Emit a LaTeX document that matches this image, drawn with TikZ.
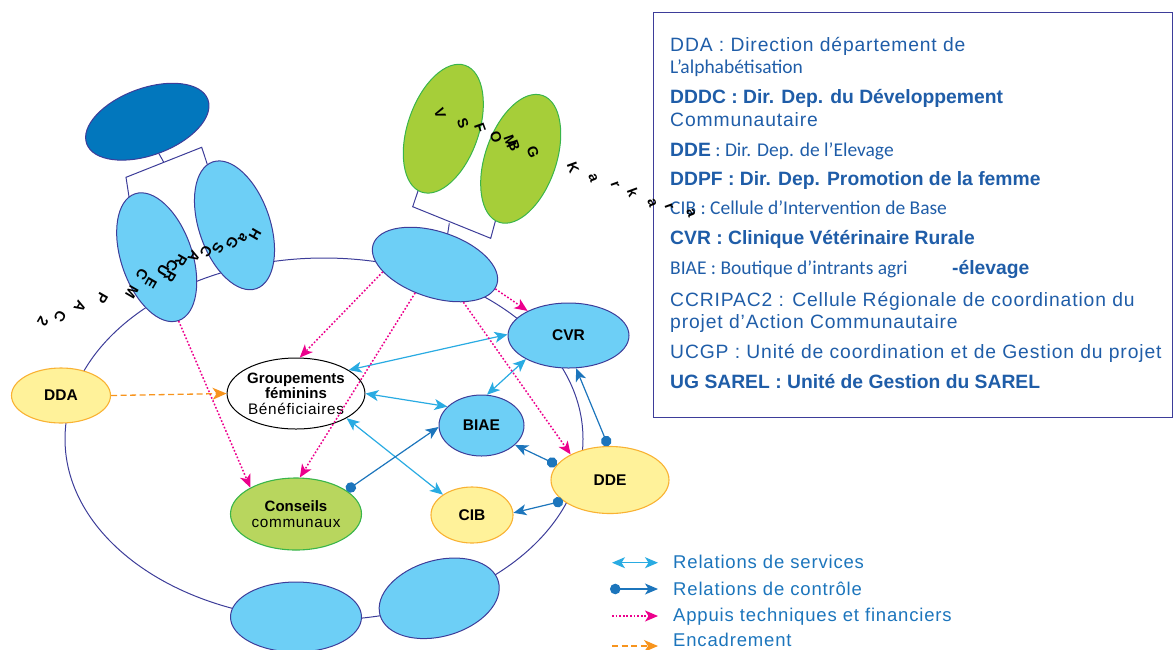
\documentclass[tikz,border=0pt]{standalone}
\usepackage{fontspec}
\setmainfont{Liberation Sans}
\setsansfont{Liberation Sans}
\newfontfamily\spaced[LetterSpace=4.5]{Liberation Sans}
\newfontfamily\myr{Carlito}
\usetikzlibrary{arrows.meta,shapes.geometric}

\definecolor{outl}{HTML}{3D3D99}
\definecolor{lblue}{HTML}{6DCFF6}
\definecolor{dblue}{HTML}{0277BD}
\definecolor{lgreen}{HTML}{A6CE39}
\definecolor{cgreen}{HTML}{B8D65E}
\definecolor{gedge}{HTML}{39B54A}
\definecolor{yfill}{HTML}{FFF29A}
\definecolor{yedge}{HTML}{F9B233}
\definecolor{svc}{HTML}{29ABE2}
\definecolor{ctl}{HTML}{1C75BC}
\definecolor{pinkc}{HTML}{EC008C}
\definecolor{orng}{HTML}{F7941D}
\definecolor{txtb}{HTML}{1F5DA8}
\definecolor{legt}{HTML}{1C75BC}

\newcommand\nodebf{\bfseries\fontsize{15.5}{16}\selectfont}
\newcommand\nodert{\spaced\fontsize{15.3}{15.5}\selectfont}
\newcommand\boxrg{\spaced\fontsize{19.3}{23}\selectfont}
\newcommand\boxbf{\bfseries\fontsize{19.3}{23}\selectfont}
\newcommand\boxmy{\myr\fontsize{19.5}{23}\selectfont}
\newcommand\legfont{\spaced\fontsize{18.5}{22}\selectfont}

\tikzset{
  outline/.style={draw=outl, line width=1pt},
  satb/.style={ellipse, outline, fill=lblue, inner sep=0pt},
  satg/.style={ellipse, draw=gedge, line width=1pt, fill=lgreen, inner sep=0pt},
  bnode/.style={ellipse, outline, fill=lblue, inner sep=0pt, font=\nodebf},
  ynode/.style={ellipse, draw=yedge, line width=1.1pt, fill=yfill, inner sep=0pt, font=\nodebf},
  twoline/.style={align=center, font=\fontsize{15}{15.5}\selectfont},
  link/.style={draw=outl, line width=1pt},
  svcarrow/.style={svc, line width=1.2pt, {Stealth[length=13pt,width=11pt,inset=3.5pt]}-{Stealth[length=13pt,width=11pt,inset=3.5pt]}},
  ctlarrow/.style={ctl, line width=1.2pt, {Circle[length=10.5pt]}-{Stealth[length=13pt,width=11pt,inset=3.5pt]}},
  aparrow/.style={pinkc, line width=1.5pt, dash pattern=on 1.7pt off 1.9pt, -{Stealth[length=13pt,width=11pt,inset=3.5pt]}},
  encarrow/.style={orng, line width=1.3pt, dash pattern=on 6pt off 3.5pt, -{Stealth[length=14pt,width=12pt,inset=4pt]}},
  boxtxt/.style={anchor=base west, inner sep=0pt, text=txtb},
  legtxt/.style={anchor=base west, inner sep=0pt, text=legt, font=\legfont},
  glyph/.style={inner sep=0pt, font=\bfseries\fontsize{14.5}{14.5}\selectfont, text=black},
}

\begin{document}
\begin{tikzpicture}[x=1pt,y=1pt]
\useasboundingbox (0,0) rectangle (1174,-649);
\clip (0,0) rectangle (1174,-649);

% outer ring of the network
\node[ellipse, outline, minimum width=518pt, minimum height=362pt, inner sep=0pt] (ring) at (324,-439) {};

% brackets joining the satellite groups
\coordinate (lb1) at (129.5,-200);
\coordinate (lb2) at (126,-177.3);
\coordinate (lb3) at (201.7,-147.3);
\coordinate (lb4) at (208.5,-168);
\coordinate (lbm) at (163.8,-162.3);
\coordinate (gb1) at (420,-185);
\coordinate (gb2) at (412.7,-206.7);
\coordinate (gb3) at (490.7,-238.3);
\coordinate (gb4) at (497,-215);
\coordinate (gbm) at (449.3,-223.3);
\coordinate (gbe) at (446.7,-240);
\draw[link] (lb1) -- (lb2) -- (lb3) -- (lb4);
\draw[link] (gb1) -- (gb2) -- (gb3) -- (gb4);
\draw[link] (gbm) -- (gbe);

% satellite ellipses
\node[satb, fill=dblue, minimum width=129pt, minimum height=67pt, rotate=20] (topd) at (147.3,-121.7) {};
\draw[link] (topd.south) -- (lbm);
\node[satb, minimum width=71pt, minimum height=134pt, rotate=19] (sl1) at (156.7,-257.2) {};
\node[satb, minimum width=71pt, minimum height=134pt, rotate=19] (sl2) at (234.5,-225.3) {};
\node[satg, minimum width=71pt, minimum height=134pt, rotate=-19] (sg1) at (443.3,-128.7) {};
\node[satg, minimum width=71pt, minimum height=134pt, rotate=-19] (sg2) at (520.7,-158.8) {};
\node[satb, minimum width=130pt, minimum height=66pt, rotate=-18] (stm) at (435,-264.5) {};
\node[satb, minimum width=131pt, minimum height=70pt] (sb1) at (296,-617) {};
\node[satb, minimum width=123pt, minimum height=76pt, rotate=16] (sb2) at (439.2,-598.3) {};

% actors
\node[bnode, minimum width=121pt, minimum height=65pt] (cvr) at (568.5,-335.5) {CVR};
\node[ynode, minimum width=118pt, minimum height=67pt] (dde) at (610,-480) {DDE};
\node[bnode, minimum width=85pt, minimum height=61pt] (biae) at (481.5,-425.5) {BIAE};
\node[ynode, minimum width=82pt, minimum height=56pt] (cib) at (472,-515) {CIB};
\node[ynode, minimum width=99pt, minimum height=55pt] (dda) at (61,-395.5) {DDA};
\node[ellipse, draw=black, line width=1pt, fill=white, inner sep=0pt, twoline,
      minimum width=131pt, minimum height=71pt] (grp) at (296,-393.5)
      {\textbf{Groupements}\\\textbf{féminins}\\{\nodert Bénéficiaires}};
\node[ellipse, draw=gedge, line width=1.1pt, fill=cgreen, inner sep=0pt, twoline,
      minimum width=131pt, minimum height=72pt] (cons) at (296,-514)
      {\textbf{Conseils}\\{\nodert communaux}};

% service relations
\draw[svcarrow] (grp.24) -- (cvr.179);
\draw[svcarrow] (grp.0) -- (biae.151);
\draw[svcarrow] (grp.-26) -- (cib.145);
\draw[svcarrow] (biae.80) -- (cvr.209);

% control relations
\draw[ctlarrow] (cons.25) -- (biae.182);
\draw[ctlarrow] (dde.164) -- (biae.-30);
\draw[ctlarrow] (dde.204) -- (cib.3);
\draw[ctlarrow] (dde.93) -- (cvr.-77);

% technical and financial support
\draw[aparrow] (sl1.south) -- (cons.150);
\draw[aparrow] (stm.206) -- (grp.84);
\draw[aparrow] (stm.253) -- (cons.84);
\draw[aparrow] (stm.325) -- (dde.147);
\draw[aparrow] (stm.356) -- (cvr.149);

% supervision
\draw[encarrow] (dda.0) -- (grp.180);

% glossary box
\node[draw=outl, line width=1.2pt, minimum width=519pt, minimum height=405pt, inner sep=0pt, anchor=north west] (gloss) at (653,-12) {};
\node[boxtxt] (t1) at (670,-51.7) {\boxrg DDA : Direction département de};
\node[boxtxt] (t2) at (670,-73.3) {\boxmy L’alphabétisation};
\node[boxtxt] (t3) at (670,-103.3) {\boxbf DDDC : Dir. Dep. du Développement};
\node[boxtxt] (t4) at (670,-126) {\boxrg Communautaire};
\node[boxtxt] (t5) at (670,-156.7) {{\boxbf DDE}{\boxmy\ : Dir. Dep. de l’Elevage}};
\node[boxtxt] (t6) at (670,-185.7) {\boxbf DDPF : Dir. Dep. Promotion de la femme};
\node[boxtxt] (t7) at (670,-214) {\boxmy CIB : Cellule d’Intervention de Base};
\node[boxtxt] (t8) at (670,-244) {\boxbf CVR : Clinique Vétérinaire Rurale};
\node[boxtxt] (t9) at (670,-274) {\boxmy BIAE : Boutique d’intrants agri};
\node[boxtxt] (t9b) at (952,-274) {\boxbf -élevage};
\node[boxtxt] (t10) at (670,-306) {\boxrg CCRIPAC2 : Cellule Régionale de coordination du};
\node[boxtxt] (t11) at (670,-328.3) {\boxrg projet d’Action Communautaire};
\node[boxtxt] (t12) at (670,-358.3) {\boxrg UCGP : Unité de coordination et de Gestion du projet};
\node[boxtxt] (t13) at (670,-388.3) {\boxbf UG SAREL : Unité de Gestion du SAREL};

% scattered labels along the satellites
\foreach \x/\y/\c [count=\i] in {255/235/H, 243/238/a, 232/243/G, 218/248/S, 206/252/C,
    194/257/A, 181/261/R, 172/266/C, 163/270/U, 170/277/R, 142/275/C, 151/283/E,
    132/292/M, 102/298/P, 80/307/A, 60/317/C, 43/322/2}
  \node[glyph, rotate=-120] (la\i) at (\x,-\y) {\c};
\foreach \x/\y/\c [count=\i] in {440/113/V, 463/123/S, 480/128/F, 496/137/O, 510/141/M,
    514/146/B, 533/152/G, 573/168/K, 593/178/a, 615/185/r, 633/192/k, 652/203/a,
    669/207/r, 691/213/a}
  \node[glyph, rotate=-70] (lg\i) at (\x,-\y) {\c};

% legend
\coordinate (k1a) at (612,-562.7); \coordinate (k1b) at (658,-562.7);
\coordinate (k2a) at (610,-589);   \coordinate (k2b) at (658,-589);
\coordinate (k3a) at (612,-616);   \coordinate (k3b) at (658,-616);
\coordinate (k4a) at (612,-646);   \coordinate (k4b) at (658,-646);
\draw[svcarrow] (k1a) -- (k1b);
\draw[ctlarrow] (k2a) -- (k2b);
\draw[aparrow] (k3a) -- (k3b);
\draw[encarrow] (k4a) -- (k4b);
\node[legtxt] (g1) at (673,-568.3) {Relations de services};
\node[legtxt] (g2) at (673,-595) {Relations de contrôle};
\node[legtxt] (g3) at (673,-621.7) {Appuis techniques et financiers};
\node[legtxt] (g4) at (673,-646.7) {Encadrement};
\end{tikzpicture}
\end{document}
